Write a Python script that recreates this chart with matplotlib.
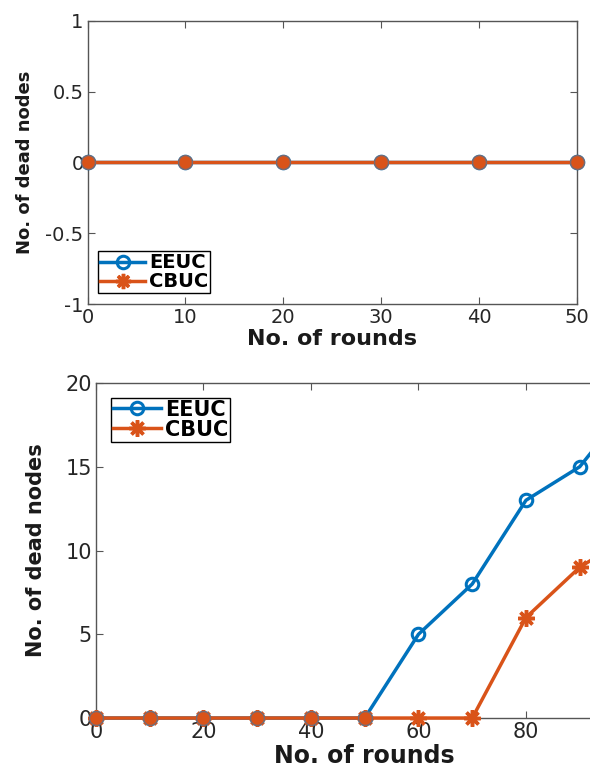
import matplotlib
matplotlib.use("Agg")
import matplotlib.pyplot as plt

# data
rounds_top = [0, 10, 20, 30, 40, 50]
eeuc_top = [0, 0, 0, 0, 0, 0]
cbuc_top = [0, 0, 0, 0, 0, 0]

rounds_bot = [0, 10, 20, 30, 40, 50, 60, 70, 80, 90, 100]
eeuc_bot = [0, 0, 0, 0, 0, 0, 5, 8, 13, 15, 19]
cbuc_bot = [0, 0, 0, 0, 0, 0, 0, 0, 6, 9, 11]

blue = "#0072BD"
orange = "#D95319"
star = (8, 2, 0)  # matlab-like asterisk

plt.rcParams["font.family"] = "DejaVu Sans"

fig = plt.figure(figsize=(5.9, 7.72), dpi=100)


def style_axes(ax, tick_size, xl_size, yl_size, yl_pad):
    for s in ax.spines.values():
        s.set_color("#555555")
        s.set_linewidth(1.0)
    ax.tick_params(direction="in", top=True, right=True, length=5,
                   labelsize=tick_size, colors="#555555", labelcolor="#262626", pad=3)
    ax.set_xlabel("No. of rounds", fontsize=xl_size, fontweight="bold", color="#1a1a1a", labelpad=1)
    ax.set_ylabel("No. of dead nodes", fontsize=yl_size, fontweight="bold", color="#1a1a1a",
                  labelpad=yl_pad)


# top panel
ax1 = fig.add_axes([0.1486, 0.6062, 0.8289, 0.367])
ax1.plot(rounds_top, eeuc_top, "-o", color=blue, lw=2.5, ms=9, mew=2.2,
         mfc="none", label="EEUC", clip_on=False, zorder=3)
ax1.plot(rounds_top, cbuc_top, "-o", color=orange, lw=2.5, ms=10,
         mec="#7a6a70", label="_nolegend_", clip_on=False, zorder=4)
ax1.plot([], [], "-", marker=star, color=orange, lw=2.5, ms=11, mew=2.5, label="CBUC")
ax1.set_xlim(0, 50)
ax1.set_ylim(-1, 1)
ax1.set_xticks([0, 10, 20, 30, 40, 50])
ax1.set_yticks([-1, -0.5, 0, 0.5, 1])
ax1.set_yticklabels(["-1", "-0.5", "0", "0.5", "1"])
style_axes(ax1, 14, 16, 13, 8)
leg1 = ax1.legend(loc="lower left", prop={"weight": "bold", "size": 14},
                  fancybox=False, edgecolor="black", framealpha=1,
                  handlelength=2.3, handletextpad=0.2, borderpad=0.1,
                  labelspacing=0.0, borderaxespad=0.55)
leg1.get_frame().set_linewidth(1.0)

# bottom panel (runs off the right edge of the figure, like the reference)
ax2 = fig.add_axes([0.1627, 0.0699, 0.911, 0.434])
ax2.plot(rounds_bot, eeuc_bot, "-o", color=blue, lw=2.5, ms=9, mew=2.2,
         mfc="none", label="EEUC", clip_on=False, zorder=3)
ax2.plot(rounds_bot, cbuc_bot, "-", marker=star, color=orange, lw=2.5, ms=12, mew=2.5,
         label="CBUC", clip_on=False, zorder=4)
zero_x = [x for x, e, c in zip(rounds_bot, eeuc_bot, cbuc_bot) if e == 0 and c == 0]
ax2.plot(zero_x, [0] * len(zero_x), "o", color=orange, ms=10, mec="#7a6a70",
         clip_on=False, zorder=5)
ax2.set_xlim(0, 100)
ax2.set_ylim(0, 20)
ax2.set_xticks([0, 20, 40, 60, 80, 100])
ax2.set_yticks([0, 5, 10, 15, 20])
style_axes(ax2, 15, 17, 15, 14)
leg2 = ax2.legend(loc="upper left", prop={"weight": "bold", "size": 15},
                  fancybox=False, edgecolor="black", framealpha=1,
                  handlelength=2.3, handletextpad=0.2, borderpad=0.1,
                  labelspacing=0.0, borderaxespad=0.7)
leg2.get_frame().set_linewidth(1.0)

fig.savefig("out.png", dpi=100)
